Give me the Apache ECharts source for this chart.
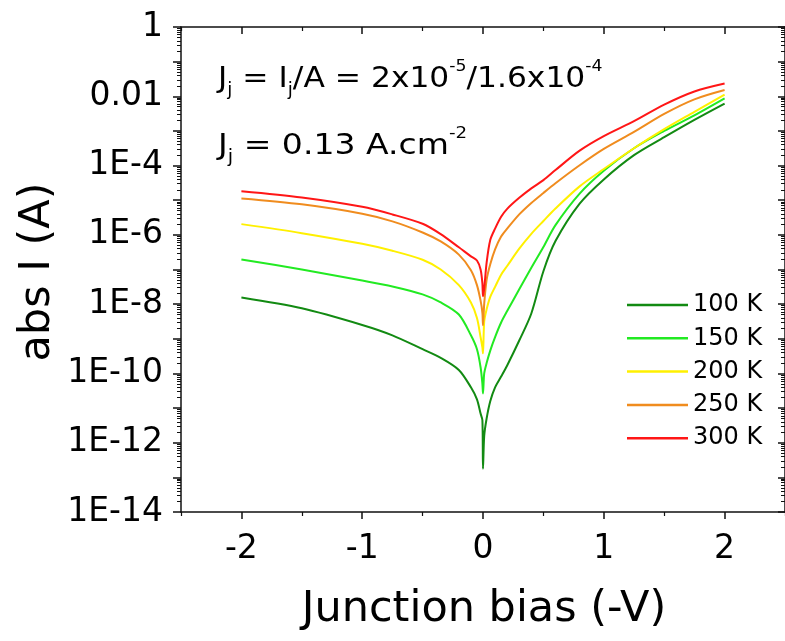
<!DOCTYPE html>
<html>
<head>
<meta charset="utf-8">
<script src="https://cdn.jsdelivr.net/npm/echarts@6/dist/echarts.min.js"></script>
<style>
html,body{margin:0;padding:0;background:#fff;}
#chart{width:785px;height:641px;}
</style>
</head>
<body>
<div id="chart"></div>
<script>
// ---- data ----
const seriesNames = ['100 K', '150 K', '200 K', '250 K', '300 K'];
const biasV = [-2, -1.5, -1, -0.75, -0.5, -0.35, -0.2, -0.1, -0.05, -0.02, -0.005, 0, 0.01, 0.03, 0.06, 0.1, 0.15, 0.2, 0.3, 0.4, 0.5, 0.6, 0.8, 1.0, 1.25, 1.5, 1.75, 2.0];
const cur100 = [1.55e-8, 7.59e-9, 2.51e-9, 1.26e-9, 5.01e-10, 2.82e-10, 1.26e-10, 3.98e-11, 1.78e-11, 6.92e-12, 4.47e-12, 1.78e-13, 1.58e-12, 5.01e-12, 1.58e-11, 3.98e-11, 8.13e-11, 1.70e-10, 8.91e-10, 5.37e-9, 8.91e-8, 6.61e-7, 7.94e-6, 3.98e-5, 2.00e-4, 6.61e-4, 2.09e-3, 6.17e-3];
const cur150 = [1.95e-7, 1.00e-7, 4.79e-8, 3.24e-8, 1.91e-8, 1.12e-8, 5.01e-9, 1.26e-9, 5.01e-10, 1.51e-10, 5.01e-11, 2.63e-11, 1.00e-10, 2.00e-10, 4.57e-10, 1.12e-9, 2.95e-9, 6.31e-9, 2.69e-8, 1.12e-7, 4.47e-7, 1.91e-6, 1.55e-5, 7.08e-5, 3.16e-4, 1.00e-3, 2.82e-3, 8.71e-3];
const cur200 = [2.04e-6, 1.12e-6, 5.50e-7, 3.47e-7, 1.91e-7, 1.00e-7, 3.55e-8, 1.12e-8, 3.98e-9, 1.12e-9, 5.62e-10, 3.80e-10, 3.16e-9, 7.08e-9, 1.62e-8, 3.16e-8, 7.08e-8, 1.26e-7, 3.98e-7, 1.07e-6, 2.51e-6, 5.75e-6, 2.51e-5, 7.94e-5, 3.16e-4, 1.12e-3, 3.55e-3, 1.12e-2];
const cur250 = [1.12e-5, 7.59e-6, 4.07e-6, 2.45e-6, 1.17e-6, 6.46e-7, 2.69e-7, 9.55e-8, 3.55e-8, 1.26e-8, 5.62e-9, 2.45e-9, 1.02e-8, 5.01e-8, 1.41e-7, 3.80e-7, 8.91e-7, 1.51e-6, 3.89e-6, 8.32e-6, 1.62e-5, 3.09e-5, 1.02e-4, 3.02e-4, 9.33e-4, 3.09e-3, 8.13e-3, 1.51e-2];
const cur300 = [1.82e-5, 1.20e-5, 6.46e-6, 3.89e-6, 2.09e-6, 1.05e-6, 4.37e-7, 2.40e-7, 1.82e-7, 1.0e-7, 3.98e-8, 1.70e-8, 2.82e-8, 1.58e-7, 7.08e-7, 1.51e-6, 3.31e-6, 5.62e-6, 1.17e-5, 2.19e-5, 3.80e-5, 7.41e-5, 2.69e-4, 7.08e-4, 1.91e-3, 5.75e-3, 1.38e-2, 2.34e-2];

const xTickValues = [-2, -1, 0, 1, 2];
const xMinorValues = [-2.5, -1.5, -0.5, 0.5, 1.5, 2.5];
const yTickValues = [1e-14, 1e-13, 1e-12, 1e-11, 1e-10, 1e-9, 1e-8, 1e-7, 1e-6, 1e-5, 1e-4, 1e-3, 1e-2, 1e-1, 1];
const yLabelValues = [1e-14, 1e-12, 1e-10, 1e-8, 1e-6, 1e-4, 1e-2, 1];
const yLabelTexts = ['1E-14', '1E-12', '1E-10', '1E-8', '1E-6', '1E-4', '0.01', '1'];

// ---- styling ----
const colors = ['#128a12', '#22ea22', '#fff000', '#f08c1e', '#ff1616'];
const FONT = 'DejaVu Sans';
const yMinorValues = [];
for (let k = -14; k < 0; k++) {
  for (let m = 2; m <= 9; m++) yMinorValues.push(m * Math.pow(10, k));
}
const currents = [cur100, cur150, cur200, cur250, cur300];

function yLabel(v) {
  const lv = Math.log10(v);
  for (let i = 0; i < yLabelValues.length; i++) {
    if (Math.abs(Math.log10(yLabelValues[i]) - lv) < 0.01) return yLabelTexts[i];
  }
  return '';
}

const lineCol = '#111';
const baseX = {type: 'value', min: -2.5, max: 2.5, gridIndex: 0, splitLine: {show: false}};
const baseY = {type: 'log', logBase: 10, min: 1e-14, max: 1, gridIndex: 0, splitLine: {show: false}, minorTick: {show: false}};

const richStyles = {
  m: {fontSize: 29, fontFamily: FONT, lineHeight: 40, fill: '#000'},
  sb: {fontSize: 17, fontFamily: FONT, lineHeight: 2, verticalAlign: 'bottom', fill: '#000'},
  sp: {fontSize: 16, fontFamily: FONT, lineHeight: 8, verticalAlign: 'top', fill: '#000'}
};

const chart = echarts.init(document.getElementById('chart'), null, {renderer: 'canvas'});
chart.setOption({
  animation: false,
  backgroundColor: '#fff',
  grid: {left: 181, right: -4, top: 27, bottom: 129, containLabel: false},
  xAxis: [
    Object.assign({}, baseX, {
      position: 'bottom',
      axisLine: {show: true, onZero: false, lineStyle: {color: lineCol, width: 1.5}},
      axisTick: {show: true, inside: false, length: 7, customValues: xTickValues, lineStyle: {color: lineCol, width: 1.5}},
      axisLabel: {show: true, customValues: xTickValues, margin: 21, fontSize: 33, fontFamily: FONT, color: '#000'}
    }),
    Object.assign({}, baseX, {
      position: 'bottom',
      axisLine: {show: false, onZero: false},
      axisTick: {show: true, inside: false, length: 4, customValues: xMinorValues, lineStyle: {color: lineCol, width: 1.2}},
      axisLabel: {show: false}
    }),
    Object.assign({}, baseX, {
      position: 'top',
      axisLine: {show: true, onZero: false, lineStyle: {color: lineCol, width: 1.5}},
      axisTick: {show: true, inside: true, length: 7, customValues: xTickValues, lineStyle: {color: lineCol, width: 1.5}},
      axisLabel: {show: false}
    }),
    Object.assign({}, baseX, {
      position: 'top',
      axisLine: {show: false, onZero: false},
      axisTick: {show: true, inside: true, length: 4, customValues: xMinorValues, lineStyle: {color: lineCol, width: 1.2}},
      axisLabel: {show: false}
    })
  ],
  yAxis: [
    Object.assign({}, baseY, {
      position: 'left',
      axisLine: {show: true, onZero: false, lineStyle: {color: lineCol, width: 1.5}},
      axisTick: {show: true, inside: false, length: 8, customValues: yTickValues, lineStyle: {color: lineCol, width: 1.5}},
      axisLabel: {show: true, customValues: yLabelValues, formatter: yLabel, margin: 18, fontSize: 33, fontFamily: FONT, color: '#000'}
    }),
    Object.assign({}, baseY, {
      position: 'left',
      axisLine: {show: false, onZero: false},
      axisTick: {show: true, inside: false, length: 4, customValues: yMinorValues, lineStyle: {color: lineCol, width: 1}},
      axisLabel: {show: false}
    }),
    Object.assign({}, baseY, {
      position: 'right',
      axisLine: {show: true, onZero: false, lineStyle: {color: lineCol, width: 1.5}},
      axisTick: {show: true, inside: true, length: 7, customValues: yTickValues, lineStyle: {color: lineCol, width: 1.5}},
      axisLabel: {show: false}
    }),
    Object.assign({}, baseY, {
      position: 'right',
      axisLine: {show: false, onZero: false},
      axisTick: {show: true, inside: true, length: 4, customValues: yMinorValues, lineStyle: {color: lineCol, width: 1}},
      axisLabel: {show: false}
    })
  ],
  legend: {
    orient: 'vertical',
    left: 622,
    top: 288,
    icon: 'rect',
    itemWidth: 61,
    itemHeight: 2.5,
    itemGap: 9.3,
    data: seriesNames,
    textStyle: {fontSize: 24, fontFamily: FONT, color: '#000', lineHeight: 24}
  },
  series: seriesNames.map((name, i) => ({
    name: name,
    type: 'line',
    xAxisIndex: 0,
    yAxisIndex: 0,
    showSymbol: false,
    symbol: 'none',
    smooth: 0.3,
    color: colors[i],
    lineStyle: {color: colors[i], width: 2},
    data: biasV.map((v, j) => [v, currents[i][j]])
  })),
  graphic: [
    {
      type: 'text', x: 218, y: 59, scaleX: 1.08,
      style: {
        text: '{m|J}{sb|j}{m| = I}{sb|j}{m|/A = 2x10}{sp|-5}{m|/1.6x10}{sp|-4}',
        align: 'left', verticalAlign: 'top', fill: '#000',
        rich: richStyles
      }
    },
    {
      type: 'text', x: 218, y: 126, scaleX: 1.14,
      style: {
        text: '{m|J}{sb|j}{m| = 0.13 A.cm}{sp|-2}',
        align: 'left', verticalAlign: 'top', fill: '#000',
        rich: richStyles
      }
    },
    {
      type: 'text', x: 484, y: 610,
      style: {text: 'Junction bias (-V)', fontSize: 43, fontFamily: FONT, fill: '#000', align: 'center', verticalAlign: 'middle'}
    },
    {
      type: 'text', x: 38, y: 272, rotation: Math.PI / 2,
      style: {text: 'abs I (A)', fontSize: 43, fontFamily: FONT, fill: '#000', align: 'center', verticalAlign: 'middle'}
    }
  ]
});
</script>
</body>
</html>
